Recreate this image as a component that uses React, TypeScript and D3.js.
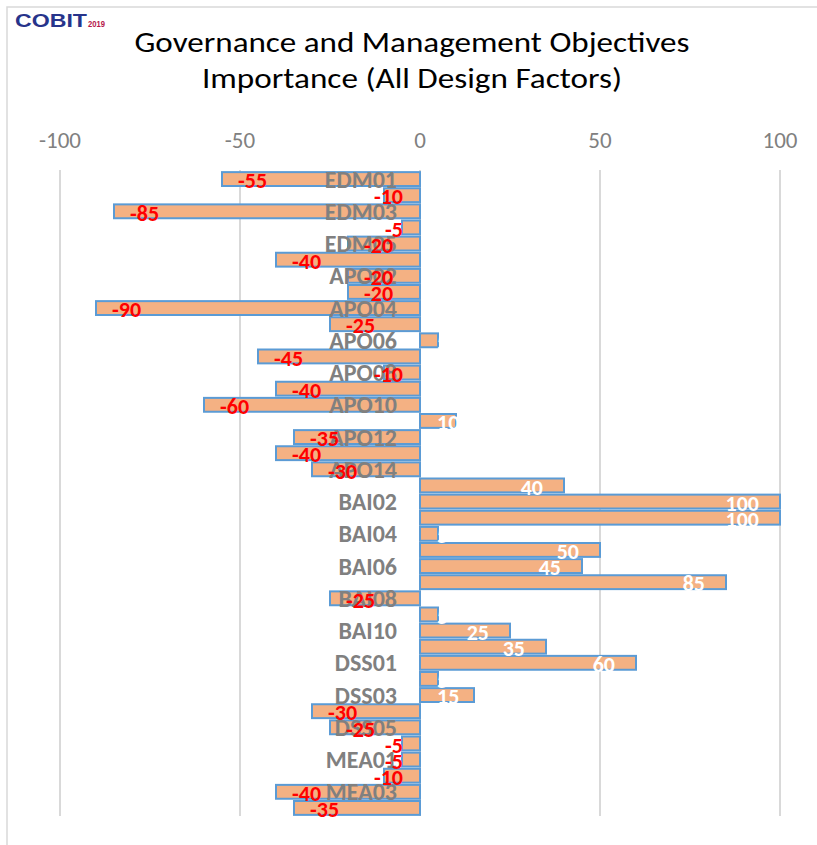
import React from "react";
import * as d3 from "d3";

// Objetivos COBIT y su importancia
const categories = [
  "EDM01", "EDM02", "EDM03", "EDM04", "EDM05",
  "APO01", "APO02", "APO03", "APO04", "APO05", "APO06", "APO07",
  "APO08", "APO09", "APO10", "APO11", "APO12", "APO13", "APO14",
  "BAI01", "BAI02", "BAI03", "BAI04", "BAI05", "BAI06", "BAI07",
  "BAI08", "BAI09", "BAI10", "BAI11",
  "DSS01", "DSS02", "DSS03", "DSS04", "DSS05", "DSS06",
  "MEA01", "MEA02", "MEA03", "MEA04",
];
const values = [
  -55, -10, -85, -5, -20,
  -40, -20, -20, -90, -25, 5, -45,
  -10, -40, -60, 10, -35, -40, -30,
  40, 100, 100, 5, 50, 45, 85,
  -25, 5, 25, 35,
  60, 5, 15, -30, -25, -5,
  -5, -10, -40, -35,
];
const xTicks = [-100, -50, 0, 50, 100];
const titleLines = ["Governance and Management Objectives", "Importance (All Design Factors)"];

const labelFont = "Carlito, Calibri, 'Liberation Sans Narrow', 'DejaVu Sans Condensed', sans-serif";

let ctx: CanvasRenderingContext2D | null = null;
const measure = (text: string, font: string) => {
  if (!ctx) ctx = document.createElement("canvas").getContext("2d");
  if (!ctx) return text.length * 11;
  ctx.font = font;
  return ctx.measureText(text).width;
};

export default function App() {
  const width = 817;
  const height = 845;

  const x = d3.scaleLinear().domain([-100, 100]).range([60, 780]);
  const y = d3.scaleBand<string>()
    .domain(categories)
    .range([171, 816])
    .paddingInner(0.14)
    .paddingOuter(0.07);

  const gridTop = 170;
  const gridBottom = 816;
  const valueFontSize = 22;
  const valueFont = `bold ${valueFontSize}px ${labelFont}`;

  return (
    <svg width={width} height={height} style={{ position: "absolute", left: 0, top: 0 }}>
      <rect x={0} y={0} width={width} height={height} fill="#fff" />
      {/* marco */}
      <rect x={7} y={7} width={width + 20} height={height + 20} fill="none" stroke="#d9d9d9" strokeWidth={1.5} />

      {/* logo */}
      <text x={15} y={27} textLength={72} lengthAdjust="spacingAndGlyphs"
        style={{ fontFamily: "'Liberation Sans', Arial, sans-serif", fontWeight: 900, fontSize: 19 }} fill="#27348b">
        COBIT
      </text>
      <text x={88} y={27} textLength={17} lengthAdjust="spacingAndGlyphs"
        style={{ fontFamily: "'Liberation Sans', Arial, sans-serif", fontWeight: 700, fontSize: 9 }} fill="#b5174b">
        2019
      </text>

      {/* titulo */}
      {titleLines.map((t, i) => (
        <text
          key={t}
          x={412}
          y={52 + i * 36}
          textAnchor="middle"
          style={{ fontFamily: "Carlito, Calibri, 'Open Sans', sans-serif", fontSize: 29 }}
          fill="#000"
          textLength={i === 0 ? 555 : 420}
          lengthAdjust="spacingAndGlyphs"
        >
          {t}
        </text>
      ))}

      {/* rejilla y ticks */}
      {xTicks.map(t => (
        <g key={t}>
          <line x1={x(t)} x2={x(t)} y1={gridTop} y2={gridBottom} stroke="#d9d9d9" strokeWidth={2} />
          <text
            x={x(t)}
            y={148}
            textAnchor="middle"
            style={{ fontFamily: "Carlito, Calibri, 'Open Sans', sans-serif", fontSize: 23 }}
            fill="#808080"
          >
            {t}
          </text>
        </g>
      ))}

      {/* barras */}
      {categories.map((c, i) => {
        const v = values[i];
        const x0 = x(Math.min(0, v));
        const w = Math.abs(x(v) - x(0));
        return (
          <rect
            key={c}
            x={x0}
            y={y(c) ?? 0}
            width={w}
            height={y.bandwidth()}
            fill="#f4b183"
            stroke="#5b9bd5"
            strokeWidth={2}
          />
        );
      })}

      {/* etiquetas del eje */}
      {categories.map((c, i) =>
        i % 2 === 0 ? (
          <text
            key={c}
            x={397}
            y={(y(c) ?? 0) + y.bandwidth() / 2}
            dy="0.36em"
            textAnchor="end"
            style={{ fontFamily: labelFont, fontWeight: 700, fontSize: 24 }}
            fill="#808080"
          >
            {c}
          </text>
        ) : null
      )}

      {/* etiquetas de valores */}
      {categories.map((c, i) => {
        const v = values[i];
        const label = String(v);
        const tw = measure(label, valueFont);
        const cy = (y(c) ?? 0) + y.bandwidth() / 2;
        let left: number;
        if (v < 0) {
          left = x(v) + 16;
          if (left + tw > x(0) - 17) left = x(0) - 17 - tw;
        } else {
          left = x(v) - 21 - tw;
          if (left < x(0) + 17) left = x(0) + 17;
        }
        return (
          <text
            key={c}
            x={left}
            y={cy}
            dy="0.42em"
            style={{ fontFamily: labelFont, fontWeight: 700, fontSize: valueFontSize }}
            fill={v < 0 ? "#ff0000" : "#ffffff"}
          >
            {label}
          </text>
        );
      })}
    </svg>
  );
}
